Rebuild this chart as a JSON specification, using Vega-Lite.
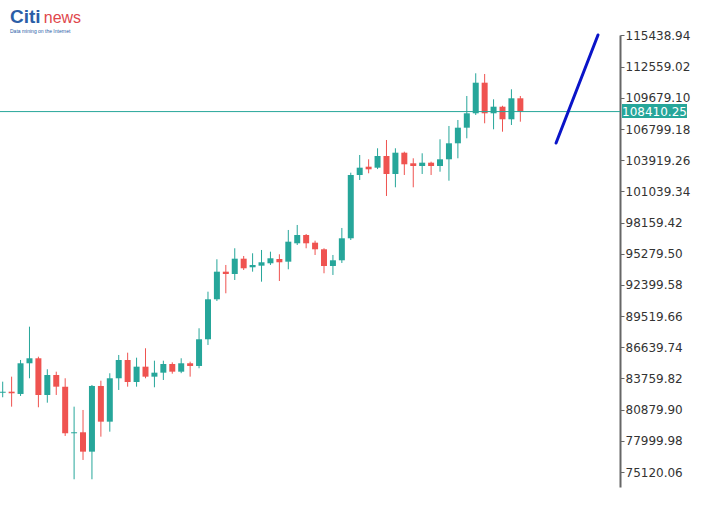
{
  "$schema": "https://vega.github.io/schema/vega-lite/v6.json",
  "width": 620,
  "height": 452,
  "autosize": {"type": "none"},
  "padding": {"left": 0, "top": 35, "right": 92, "bottom": 26},
  "background": "white",
  "config": {
    "view": {"stroke": null},
    "axis": {"grid": false, "labelFont": "DejaVu Sans", "labelFontSize": 12, "labelColor": "#333333", "domainColor": "#666666", "domainWidth": 2, "tickColor": "#666666", "tickSize": 4, "tickWidth": 1, "labelPadding": 1, "labelOverlap": false, "labelFlush": false}
  },
  "datasets": {
    "candles": [
      {"i": 0, "open": 82448, "high": 83464, "low": 82023, "close": 82540},
      {"i": 1, "open": 82540, "high": 83926, "low": 81155, "close": 82392},
      {"i": 2, "open": 82328, "high": 85468, "low": 82143, "close": 85163},
      {"i": 3, "open": 85163, "high": 88544, "low": 83778, "close": 85625},
      {"i": 4, "open": 85625, "high": 85773, "low": 81099, "close": 82235},
      {"i": 5, "open": 82235, "high": 84609, "low": 81524, "close": 84083},
      {"i": 6, "open": 84083, "high": 84387, "low": 82235, "close": 83002},
      {"i": 7, "open": 83002, "high": 83778, "low": 78449, "close": 78698},
      {"i": 8, "open": 78698, "high": 81155, "low": 74449, "close": 78790},
      {"i": 9, "open": 78790, "high": 80850, "low": 76232, "close": 76999},
      {"i": 10, "open": 76999, "high": 83159, "low": 74449, "close": 83067},
      {"i": 11, "open": 83067, "high": 83556, "low": 78384, "close": 79769},
      {"i": 12, "open": 79769, "high": 84240, "low": 78846, "close": 83778},
      {"i": 13, "open": 83778, "high": 85930, "low": 82697, "close": 85468},
      {"i": 14, "open": 85468, "high": 86142, "low": 83002, "close": 83436},
      {"i": 15, "open": 83436, "high": 85680, "low": 83002, "close": 84849},
      {"i": 16, "open": 84849, "high": 86549, "low": 83778, "close": 83926},
      {"i": 17, "open": 83926, "high": 85403, "low": 82947, "close": 84295},
      {"i": 18, "open": 84295, "high": 85403, "low": 83621, "close": 85099},
      {"i": 19, "open": 85099, "high": 85250, "low": 84200, "close": 84387},
      {"i": 20, "open": 84387, "high": 85625, "low": 84250, "close": 85163},
      {"i": 21, "open": 85163, "high": 85311, "low": 83926, "close": 84914},
      {"i": 22, "open": 84914, "high": 88396, "low": 84701, "close": 87380},
      {"i": 23, "open": 87380, "high": 91776, "low": 86853, "close": 91074},
      {"i": 24, "open": 91074, "high": 94769, "low": 90917, "close": 93623},
      {"i": 25, "open": 93623, "high": 94242, "low": 91628, "close": 93411},
      {"i": 26, "open": 93411, "high": 95785, "low": 92857, "close": 94824},
      {"i": 27, "open": 94824, "high": 95073, "low": 93780, "close": 93937},
      {"i": 28, "open": 94030, "high": 95323, "low": 93623, "close": 94242},
      {"i": 29, "open": 94177, "high": 95628, "low": 92700, "close": 94492},
      {"i": 30, "open": 94399, "high": 95471, "low": 94242, "close": 94861},
      {"i": 31, "open": 94796, "high": 95230, "low": 92764, "close": 94492},
      {"i": 32, "open": 94547, "high": 97475, "low": 93845, "close": 96394},
      {"i": 33, "open": 96246, "high": 97937, "low": 96089, "close": 97013},
      {"i": 34, "open": 97013, "high": 97105, "low": 95785, "close": 96246},
      {"i": 35, "open": 96302, "high": 96487, "low": 95166, "close": 95692},
      {"i": 36, "open": 95692, "high": 95785, "low": 93476, "close": 94150},
      {"i": 37, "open": 94150, "high": 95166, "low": 93319, "close": 94676},
      {"i": 38, "open": 94676, "high": 97660, "low": 94427, "close": 96708},
      {"i": 39, "open": 96708, "high": 102767, "low": 96551, "close": 102555},
      {"i": 40, "open": 102555, "high": 104402, "low": 102093, "close": 103229},
      {"i": 41, "open": 103321, "high": 104005, "low": 102712, "close": 103081},
      {"i": 42, "open": 103229, "high": 105021, "low": 103100, "close": 104309},
      {"i": 43, "open": 104309, "high": 105787, "low": 100615, "close": 102647},
      {"i": 44, "open": 102647, "high": 105021, "low": 101419, "close": 104614},
      {"i": 45, "open": 104614, "high": 104707, "low": 102555, "close": 103543},
      {"i": 46, "open": 103635, "high": 104097, "low": 101419, "close": 103386},
      {"i": 47, "open": 103386, "high": 104559, "low": 102647, "close": 103691},
      {"i": 48, "open": 103691, "high": 103783, "low": 102555, "close": 103386},
      {"i": 49, "open": 103386, "high": 105852, "low": 102859, "close": 104005},
      {"i": 50, "open": 104005, "high": 107080, "low": 102028, "close": 105482},
      {"i": 51, "open": 105482, "high": 107634, "low": 104097, "close": 106923},
      {"i": 52, "open": 106923, "high": 109851, "low": 105944, "close": 108253},
      {"i": 53, "open": 108253, "high": 111948, "low": 108100, "close": 111079},
      {"i": 54, "open": 111079, "high": 111883, "low": 107330, "close": 108253},
      {"i": 55, "open": 108253, "high": 109546, "low": 106775, "close": 108863},
      {"i": 56, "open": 108863, "high": 108950, "low": 106554, "close": 107699},
      {"i": 57, "open": 107699, "high": 110470, "low": 107173, "close": 109639},
      {"i": 58, "open": 109639, "high": 109851, "low": 107477, "close": 108410.25}
    ],
    "trend": [
      {"i": 62.0, "v": 105510},
      {"i": 66.7, "v": 115485}
    ],
    "last": [
      {"price": 108410.25, "label": "108410.25"}
    ]
  },
  "layer": [
    {
      "data": {"name": "candles"},
      "mark": {"type": "rule", "strokeWidth": 1},
      "encoding": {
        "x": {"field": "i", "type": "quantitative", "scale": {"domain": [-0.3025, 69.165], "nice": false, "zero": false, "padding": 0}, "axis": null},
        "y": {"field": "low", "type": "quantitative", "scale": {"domain": [73735, 115485], "nice": false, "zero": false, "padding": 0}, "axis": {"orient": "right", "title": null, "format": ".2f", "values": [75120.06, 77999.98, 80879.90, 83759.82, 86639.74, 89519.66, 92399.58, 95279.50, 98159.42, 101039.34, 103919.26, 106799.18, 109679.10, 112559.02, 115438.94]}},
        "y2": {"field": "high"},
        "color": {"condition": {"test": "datum.close >= datum.open", "value": "#26a69a"}, "value": "#ef5350"}
      }
    },
    {
      "data": {"name": "candles"},
      "mark": {"type": "bar", "width": 6},
      "encoding": {
        "x": {"field": "i", "type": "quantitative", "scale": {"domain": [-0.3025, 69.165], "nice": false, "zero": false, "padding": 0}, "axis": null},
        "y": {"field": "open", "type": "quantitative", "scale": {"domain": [73735, 115485], "nice": false, "zero": false, "padding": 0}, "axis": {"orient": "right", "title": null, "format": ".2f", "values": [75120.06, 77999.98, 80879.90, 83759.82, 86639.74, 89519.66, 92399.58, 95279.50, 98159.42, 101039.34, 103919.26, 106799.18, 109679.10, 112559.02, 115438.94]}},
        "y2": {"field": "close"},
        "color": {"condition": {"test": "datum.close >= datum.open", "value": "#26a69a"}, "value": "#ef5350"}
      }
    },
    {
      "data": {"name": "last"},
      "mark": {"type": "rule", "color": "#26a69a", "strokeWidth": 1},
      "encoding": {
        "y": {"field": "price", "type": "quantitative", "scale": {"domain": [73735, 115485], "nice": false, "zero": false, "padding": 0}, "axis": {"orient": "right", "title": null, "format": ".2f", "values": [75120.06, 77999.98, 80879.90, 83759.82, 86639.74, 89519.66, 92399.58, 95279.50, 98159.42, 101039.34, 103919.26, 106799.18, 109679.10, 112559.02, 115438.94]}}
      }
    },
    {
      "data": {"name": "trend"},
      "mark": {"type": "line", "color": "#0a14c8", "strokeWidth": 3, "strokeCap": "round"},
      "encoding": {
        "x": {"field": "i", "type": "quantitative", "scale": {"domain": [-0.3025, 69.165], "nice": false, "zero": false, "padding": 0}, "axis": null},
        "y": {"field": "v", "type": "quantitative", "scale": {"domain": [73735, 115485], "nice": false, "zero": false, "padding": 0}, "axis": {"orient": "right", "title": null, "format": ".2f", "values": [75120.06, 77999.98, 80879.90, 83759.82, 86639.74, 89519.66, 92399.58, 95279.50, 98159.42, 101039.34, 103919.26, 106799.18, 109679.10, 112559.02, 115438.94]}}
      }
    },
    {
      "data": {"name": "last"},
      "mark": {"type": "rect", "color": "#26a69a"},
      "encoding": {
        "x": {"datum": 69.39, "type": "quantitative", "scale": {"domain": [-0.3025, 69.165], "nice": false, "zero": false, "padding": 0}, "axis": null},
        "x2": {"datum": 76.67},
        "y": {"datum": 109112, "type": "quantitative", "scale": {"domain": [73735, 115485], "nice": false, "zero": false, "padding": 0}, "axis": {"orient": "right", "title": null, "format": ".2f", "values": [75120.06, 77999.98, 80879.90, 83759.82, 86639.74, 89519.66, 92399.58, 95279.50, 98159.42, 101039.34, 103919.26, 106799.18, 109679.10, 112559.02, 115438.94]}},
        "y2": {"datum": 107819}
      }
    },
    {
      "data": {"name": "last"},
      "mark": {"type": "text", "color": "white", "font": "DejaVu Sans", "fontSize": 12, "align": "center", "baseline": "middle"},
      "encoding": {
        "x": {"datum": 73.03, "type": "quantitative", "scale": {"domain": [-0.3025, 69.165], "nice": false, "zero": false, "padding": 0}, "axis": null},
        "y": {"field": "price", "type": "quantitative", "scale": {"domain": [73735, 115485], "nice": false, "zero": false, "padding": 0}, "axis": {"orient": "right", "title": null, "format": ".2f", "values": [75120.06, 77999.98, 80879.90, 83759.82, 86639.74, 89519.66, 92399.58, 95279.50, 98159.42, 101039.34, 103919.26, 106799.18, 109679.10, 112559.02, 115438.94]}},
        "text": {"field": "label"}
      }
    },
    {
      "data": {"values": [{"t": "Citi"}]},
      "mark": {"type": "text", "color": "#2b5ea7", "font": "Liberation Sans", "fontSize": 19, "fontWeight": "bold", "align": "left", "baseline": "alphabetic"},
      "encoding": {
        "x": {"datum": 0.818, "type": "quantitative", "scale": {"domain": [-0.3025, 69.165], "nice": false, "zero": false, "padding": 0}, "axis": null},
        "y": {"datum": 116593, "type": "quantitative", "scale": {"domain": [73735, 115485], "nice": false, "zero": false, "padding": 0}, "axis": {"orient": "right", "title": null, "format": ".2f", "values": [75120.06, 77999.98, 80879.90, 83759.82, 86639.74, 89519.66, 92399.58, 95279.50, 98159.42, 101039.34, 103919.26, 106799.18, 109679.10, 112559.02, 115438.94]}},
        "text": {"field": "t"}
      }
    },
    {
      "data": {"values": [{"t": "news"}]},
      "mark": {"type": "text", "color": "#e0474c", "font": "Liberation Sans", "fontSize": 16, "align": "left", "baseline": "alphabetic"},
      "encoding": {
        "x": {"datum": 4.6, "type": "quantitative", "scale": {"domain": [-0.3025, 69.165], "nice": false, "zero": false, "padding": 0}, "axis": null},
        "y": {"datum": 116593, "type": "quantitative", "scale": {"domain": [73735, 115485], "nice": false, "zero": false, "padding": 0}, "axis": {"orient": "right", "title": null, "format": ".2f", "values": [75120.06, 77999.98, 80879.90, 83759.82, 86639.74, 89519.66, 92399.58, 95279.50, 98159.42, 101039.34, 103919.26, 106799.18, 109679.10, 112559.02, 115438.94]}},
        "text": {"field": "t"}
      }
    },
    {
      "data": {"values": [{"t": "Data mining on the Internet"}]},
      "mark": {"type": "text", "color": "#2b5ea7", "font": "Liberation Sans", "fontSize": 5, "align": "left", "baseline": "alphabetic"},
      "encoding": {
        "x": {"datum": 0.818, "type": "quantitative", "scale": {"domain": [-0.3025, 69.165], "nice": false, "zero": false, "padding": 0}, "axis": null},
        "y": {"datum": 115670, "type": "quantitative", "scale": {"domain": [73735, 115485], "nice": false, "zero": false, "padding": 0}, "axis": {"orient": "right", "title": null, "format": ".2f", "values": [75120.06, 77999.98, 80879.90, 83759.82, 86639.74, 89519.66, 92399.58, 95279.50, 98159.42, 101039.34, 103919.26, 106799.18, 109679.10, 112559.02, 115438.94]}},
        "text": {"field": "t"}
      }
    }
  ]
}
